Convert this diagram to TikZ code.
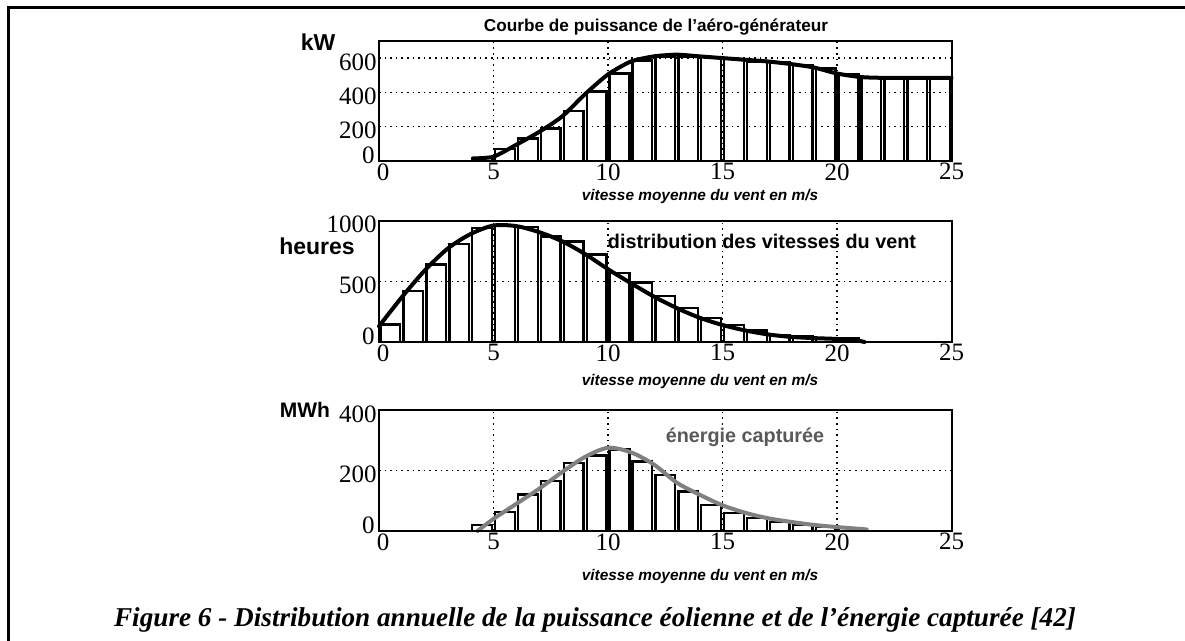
\documentclass[tikz,border=0pt]{standalone}
\usepackage{fontspec}
\setmainfont{Liberation Serif}
\setsansfont{Liberation Sans}
\usetikzlibrary{positioning}

\definecolor{curvegray}{gray}{0.5}
\definecolor{textgray}{gray}{0.35}

\tikzset{
  axisbox/.style={draw, line width=1pt},
  gridline/.style={dotted, line width=0.8pt},
  histbar/.style={draw, fill=white, line width=1.2pt},
  fitcurve/.style={line width=2pt, line join=round, line cap=round},
  ticklabel/.style={font=\fontsize{12.5}{12.5}\selectfont, inner sep=1pt},
  zerolabel/.style={ticklabel, left, yshift=3pt, xshift=-1pt},
  unitlabel/.style={font=\sffamily\bfseries\fontsize{11.5}{12}\selectfont, inner sep=0pt},
  axistitle/.style={font=\sffamily\bfseries\itshape\fontsize{7.7}{8}\selectfont, inner sep=0pt},
  plotlegend/.style={font=\sffamily\bfseries\fontsize{9.9}{10}\selectfont, inner sep=0pt},
}

\begin{document}
\begin{tikzpicture}[x=0.5pt, y=-0.5pt]
    \useasboundingbox (0,0) rectangle (1185,641);
    \draw[line width=1.5pt] (1185,8) -- (8,8) -- (8,641);

    % courbe de puissance
    \begin{scope}[shift={(379,161)}, x=11.45pt, y=8.575pt]
        \foreach \k/\h in {4/0.18,5/0.7,6/1.3,7/1.9,8/2.9,9/4.05,10/5.1,11/5.85,12/6.05,13/6.1,14/6.05,
                           15/5.95,16/5.8,17/5.75,18/5.6,19/5.4,20/5.05,21/4.9,22/4.9,23/4.9,24/4.9}
            \draw[histbar] (\k+0.07,0) rectangle (\k+0.93,\h);
        \foreach \g in {5,10,15,20} \draw[gridline] (\g,0) -- (\g,7);
        \foreach \g in {2,4,6} \draw[gridline] (0,\g) -- (25,\g);
        \draw[fitcurve] plot[smooth, tension=0.4] coordinates {(4.1,0.15) (5,0.25) (6,0.95) (7,1.7) (8,2.6) (9,3.9)
            (10,5.05) (11,5.8) (12,6.1) (13,6.2) (14,6.1) (15,6.0) (16,5.9) (17,5.8) (18,5.65) (19,5.45)
            (20,5.1) (21,4.9) (22,4.85) (25,4.85)};
        \draw[axisbox] (0,0) rectangle (25,7);
        \foreach \t in {5,10,...,25} \node[ticklabel, below] (p1x\t) at (\t,0) {\t};
        \node[ticklabel, below, xshift=2pt] (p1x0) at (0,0) {0};
        \foreach \t/\v in {2/200,4/400,6/600} \node[ticklabel, left, yshift=-2pt] (p1y\t) at (0,\t) {\v};
        \node[zerolabel] (p1y0) at (0,0) {0};
    \end{scope}
    \node[font=\sffamily\bfseries\fontsize{8.6}{9}\selectfont] (title) at (656,27) {Courbe de puissance de l'aéro-générateur};
    \node[unitlabel]  (unitkW) at (318,42)  {kW};
    \node[axistitle]  (xlab1)  at (700,197) {vitesse moyenne du vent en m/s};

    % distribution des vitesses
    \begin{scope}[shift={(379,342)}, x=11.45pt, y=6.065pt]
        \foreach \k/\h in {0/1.45,1/4.2,2/6.4,3/8.1,4/9.4,5/9.6,6/9.5,7/8.7,8/8.3,9/7.2,10/5.7,11/4.9,
                           12/3.8,13/2.8,14/2.0,15/1.4,16/0.95,17/0.6,18/0.45,19/0.35,20/0.3}
            \draw[histbar] (\k+0.07,0) rectangle (\k+0.93,\h);
        \foreach \g in {5,10,15,20} \draw[gridline] (\g,0) -- (\g,10);
        \draw[gridline] (0,5) -- (25,5);
        \draw[fitcurve] plot[smooth, tension=0.5] coordinates {(0,1.3) (1,3.7) (2,5.9) (3,7.7) (4,8.9) (5,9.6)
            (6,9.55) (7,9.05) (8,8.3) (9,7.25) (10,6.0) (11,4.85) (12,3.75) (13,2.8) (14,2.0) (15,1.4)
            (16,0.95) (17,0.62) (18,0.42) (19,0.32) (20,0.25) (20.8,0.15) (21.2,0)};
        \draw[axisbox] (0,0) rectangle (25,10);
        \foreach \t in {5,10,...,25} \node[ticklabel, below] (p2x\t) at (\t,0) {\t};
        \node[ticklabel, below, xshift=2pt] (p2x0) at (0,0) {0};
        \foreach \t/\v in {5/500,10/1000} \node[ticklabel, left, yshift=-2pt] (p2y\t) at (0,\t) {\v};
        \node[zerolabel] (p2y0) at (0,0) {0};
    \end{scope}
    \node[unitlabel]  (unith)  at (317,246) {heures};
    \node[plotlegend] (legdist) at (762,241) {distribution des vitesses du vent};
    \node[axistitle]  (xlab2)  at (700,382) {vitesse moyenne du vent en m/s};

    % energie capturee
    \begin{scope}[shift={(379,531)}, x=11.45pt, y=15.125pt]
        \foreach \k/\h in {4/0.2,5/0.62,6/1.2,7/1.65,8/2.25,9/2.5,10/2.7,11/2.3,12/1.85,13/1.3,14/0.85,
                           15/0.6,16/0.42,17/0.3,18/0.2,19/0.15,20/0.1}
            \draw[histbar] (\k+0.07,0) rectangle (\k+0.93,\h);
        \foreach \g in {5,10,15,20} \draw[gridline] (\g,0) -- (\g,4);
        \draw[gridline] (0,2) -- (25,2);
        \draw[fitcurve, curvegray] plot[smooth, tension=0.5] coordinates {(4.3,0) (5,0.4) (6,0.9) (7,1.4)
            (8,1.95) (9,2.45) (10,2.75) (11,2.6) (12,2.2) (13,1.6) (14,1.2) (15,0.85) (16,0.6) (17,0.42)
            (18,0.3) (19,0.2) (20,0.13) (21,0.07) (21.3,0.05)};
        \draw[axisbox] (0,0) rectangle (25,4);
        \foreach \t in {5,10,...,25} \node[ticklabel, below] (p3x\t) at (\t,0) {\t};
        \node[ticklabel, below, xshift=2pt] (p3x0) at (0,0) {0};
        \foreach \t/\v in {2/200,4/400} \node[ticklabel, left, yshift=-2pt] (p3y\t) at (0,\t) {\v};
        \node[zerolabel] (p3y0) at (0,0) {0};
    \end{scope}
    \node[unitlabel, font=\sffamily\bfseries\fontsize{10.5}{11}\selectfont] (unitMWh) at (305,410) {MWh};
    \node[plotlegend, textgray] (legener) at (745,437) {énergie capturée};
    \node[axistitle]  (xlab3)  at (700,577) {vitesse moyenne du vent en m/s};

    \node[font=\bfseries\itshape\fontsize{13.6}{14}\selectfont] (caption) at (595,620)
        {Figure 6 - Distribution annuelle de la puissance éolienne et de l’énergie capturée [42]};
\end{tikzpicture}
\end{document}
